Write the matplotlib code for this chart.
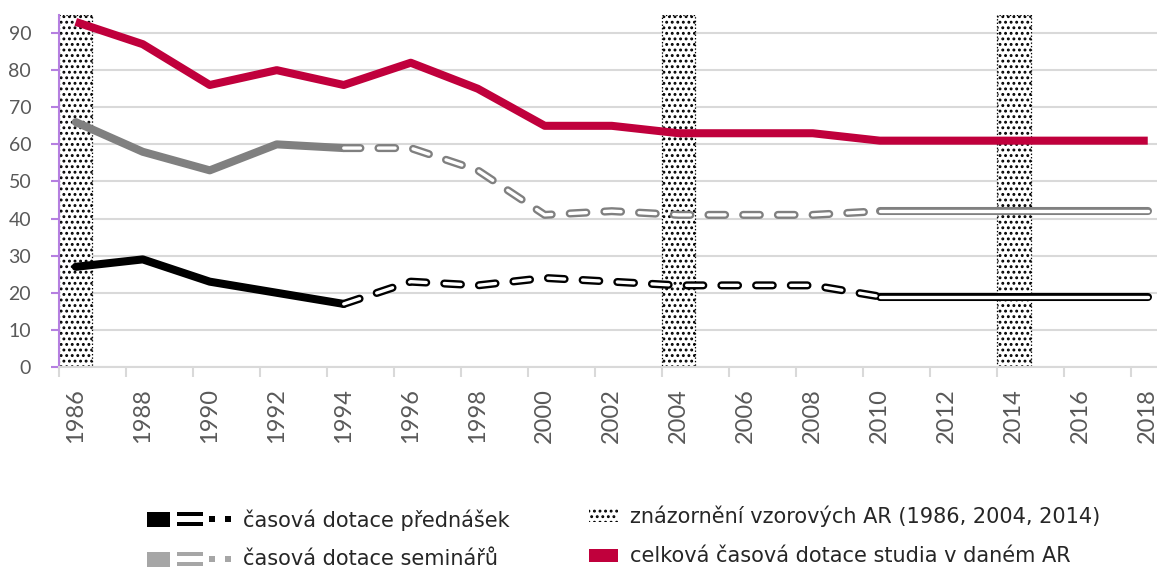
import matplotlib
matplotlib.use('Agg')
import matplotlib.pyplot as plt
from matplotlib.patches import Rectangle
import numpy as np

plt.rcParams['lines.scale_dashes'] = False
plt.rcParams['hatch.linewidth'] = 1.3

# data
years = list(range(1986, 2019, 2))
total = [93, 87, 76, 80, 76, 82, 75, 65, 65, 63, 63, 63, 61, 61, 61, 61, 61]
seminars = [66, 58, 53, 60, 59, 59, 53, 41, 42, 41, 41, 41, 42, 42, 42, 42, 42]
lectures = [27, 29, 23, 20, 17, 23, 22, 24, 23, 22, 22, 22, 19, 19, 19, 19, 19]
model_years = [1986, 2004, 2014]
y_ticks = list(range(0, 100, 10))

leg_lectures = "časová dotace přednášek"
leg_seminars = "časová dotace seminářů"
leg_model = "znázornění vzorových AR (1986, 2004, 2014)"
leg_total = "celková časová dotace studia v daném AR"

RED = '#c0003c'
GRAY = '#808080'
LGRAY = '#a6a6a6'
TXT = '#595959'
W, H = 1157, 570
LW = 5.8

x = np.array(years) + 0.5
i94 = years.index(1994)
i10 = years.index(2010)

fig = plt.figure(figsize=(W / 100, H / 100), dpi=100)
ax = fig.add_axes([59 / W, 1 - 367 / H, 1 - 59 / W, (367 - 14.5) / H])

for y in model_years:
    ax.axvspan(y, y + 1, facecolor='white', edgecolor='black', hatch='...',
               lw=0.9, ls=(0, (1, 1.5)), zorder=2)


def hollow(xs, ys, color, dashed):
    ls = (0, (12, 13)) if dashed else '-'
    ax.plot(xs, ys, color=color, lw=LW, ls=ls, dash_capstyle='round',
            solid_capstyle='round', zorder=4)
    ax.plot(xs, ys, color='white', lw=2.4, ls=ls, dash_capstyle='round',
            solid_capstyle='round', zorder=5)


for vals, col in [(seminars, GRAY), (lectures, 'black')]:
    ax.plot(x[:i94 + 1], vals[:i94 + 1], color=col, lw=LW,
            solid_capstyle='round', solid_joinstyle='round', zorder=4)
    hollow(x[i94:i10 + 1], vals[i94:i10 + 1], col, True)
    hollow(x[i10:], vals[i10:], col, False)

ax.plot(x, total, color=RED, lw=LW, solid_capstyle='butt',
        solid_joinstyle='round', zorder=6)

ax.set_xlim(1986, 1986 + (W - 59) / 33.5)
ax.set_ylim(0, 95)
ax.set_yticks(y_ticks)
ax.set_yticklabels([str(v) for v in y_ticks], fontsize=14, color=TXT,
                   family='Lato')
ax.yaxis.grid(True, color='#d9d9d9', lw=1.5, zorder=0)
ax.set_axisbelow(True)

ax.set_xticks(years)
ax.set_xticklabels([])
ax.set_xticks(x, minor=True)
ax.set_xticklabels([str(y) for y in years], minor=True, rotation=90,
                   fontsize=17, color=TXT, family='Lato')
ax.tick_params(axis='x', which='major', length=7, width=1.5, color='#d9d9d9')
ax.tick_params(axis='x', which='minor', length=0, pad=15)
ax.tick_params(axis='y', length=6, width=1.5, color='#b57fe0', pad=14)

for s in ['top', 'right']:
    ax.spines[s].set_visible(False)
ax.spines['left'].set_color('#b57fe0')
ax.spines['left'].set_linewidth(1.5)
ax.spines['bottom'].set_color('#d9d9d9')
ax.spines['bottom'].set_linewidth(1.5)


# legend drawn in pixel coordinates of the figure
def px_rect(x0, y0, x1, y1, **kw):
    fig.patches.append(Rectangle((x0 / W, 1 - y1 / H), (x1 - x0) / W,
                                 (y1 - y0) / H, transform=fig.transFigure,
                                 figure=fig, **kw))


for col, dy in [('black', 0), (LGRAY, 40)]:
    px_rect(147, 512 + dy, 170, 527 + dy, facecolor=col, lw=0)
    px_rect(177, 512 + dy, 203, 516 + dy, facecolor=col, lw=0)
    px_rect(177, 522 + dy, 203, 526 + dy, facecolor=col, lw=0)
    px_rect(209, 516 + dy, 215, 522 + dy, facecolor=col, lw=0)
    px_rect(225, 516 + dy, 231, 522 + dy, facecolor=col, lw=0)

px_rect(589, 509, 618, 522, facecolor='white', edgecolor='black',
        hatch='...', lw=0)
px_rect(589, 549, 618, 562, facecolor=RED, lw=0)

lkw = dict(fontsize=15, color='#262626', va='center', ha='left',
           family='DejaVu Sans')
fig.text(243 / W, 1 - 520 / H, leg_lectures, **lkw)
fig.text(243 / W, 1 - 559 / H, leg_seminars, **lkw)
fig.text(630 / W, 1 - 516 / H, leg_model, **lkw)
fig.text(630 / W, 1 - 556 / H, leg_total, **lkw)

fig.savefig('out.png', dpi=100)
